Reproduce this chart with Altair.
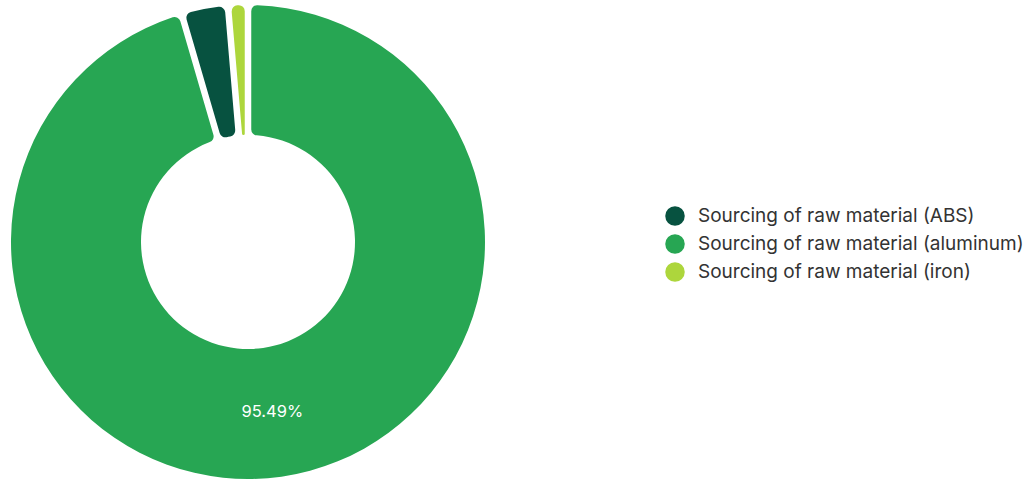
import altair as alt
import pandas as pd

categories = ["Sourcing of raw material (aluminum)", "Sourcing of raw material (ABS)", "Sourcing of raw material (iron)"]
values = [95.49, 3.16, 1.35]
stack_order = [0, 1, 2]
legend_order = ["Sourcing of raw material (ABS)", "Sourcing of raw material (aluminum)", "Sourcing of raw material (iron)"]
legend_colors = ["#075240", "#27a653", "#add63c"]

labels = [f"{v:.2f}%" if v > 5 else "" for v in values]
df = pd.DataFrame({"category": categories, "value": values, "ord": stack_order, "label": labels})

CX, CY = 248, 242

base = alt.Chart(df).encode(
    theta=alt.Theta("value:Q", stack=True),
    order=alt.Order("ord:Q"),
    x=alt.value(CX),
    y=alt.value(CY),
)

arcs = base.mark_arc(outerRadius=237, innerRadius=107, padAngle=0.025, cornerRadius=6).encode(
    color=alt.Color(
        "category:N",
        scale=alt.Scale(domain=legend_order, range=legend_colors),
        legend=alt.Legend(
            title=None,
            orient="none",
            legendX=665,
            legendY=206,
            symbolType="circle",
            symbolSize=380,
            symbolStrokeWidth=0,
            labelFont="Inter",
            labelFontSize=19,
            labelColor="#333333",
            labelOffset=13,
            rowPadding=8,
            padding=0,
            labelLimit=500,
        ),
    )
)

text = base.mark_text(radius=172, font="Inter", fontSize=16.5, color="white").encode(
    text="label:N"
)

chart = (arcs + text).properties(
    width=1031, height=482, padding=0, autosize=alt.AutoSizeParams(type="none")
).configure_view(stroke=None)

chart.save("out.html", embed_options={"renderer": "svg", "actions": False})
